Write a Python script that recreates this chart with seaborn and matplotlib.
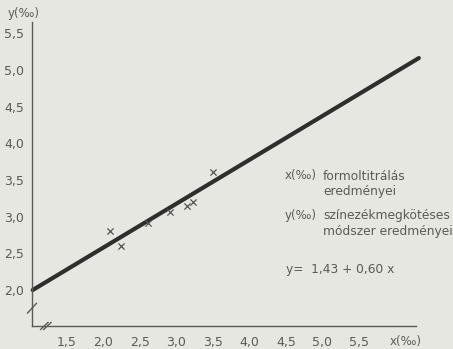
import matplotlib
matplotlib.use("Agg")
import matplotlib.pyplot as plt
import seaborn as sns
import pandas as pd

# mért pontok (x: formoltitrálás, y: színezékmegkötés), ezrelékben
meas_x = [2.09, 2.24, 2.61, 2.91, 3.14, 3.23, 3.50]
meas_y = [2.80, 2.60, 2.91, 3.06, 3.14, 3.20, 3.61]

# regressziós egyenes két végpontja
line_x = [1.03, 6.32]
line_y = [2.00, 5.16]

x_ticks = [1.5, 2.0, 2.5, 3.0, 3.5, 4.0, 4.5, 5.0, 5.5]
y_ticks = [2.0, 2.5, 3.0, 3.5, 4.0, 4.5, 5.0, 5.5]

BG = "#e7e7e1"
INK = "#5a5a58"

sns.set_style("white")
plt.rcParams["font.family"] = ["DejaVu Sans"]

fig = plt.figure(figsize=(4.53, 3.49), dpi=100, facecolor=BG)
ax = fig.add_axes([0.0706, 0.0659, 0.8477, 0.871])
ax.set_facecolor(BG)

df_pts = pd.DataFrame({"x": meas_x, "y": meas_y})
df_line = pd.DataFrame({"x": line_x, "y": line_y})

sns.lineplot(data=df_line, x="x", y="y", ax=ax, color="#2e2e2e",
             linewidth=3.0, solid_capstyle="round", clip_on=False)
sns.scatterplot(data=df_pts, x="x", y="y", ax=ax, marker="x", s=20,
                color="#555555", linewidth=0.9, zorder=3)

ax.set_xlim(1.0205, 6.281)
ax.set_ylim(1.510, 5.651)

for side in ["top", "right"]:
    ax.spines[side].set_visible(False)
for side in ["left", "bottom"]:
    ax.spines[side].set_color(INK)
    ax.spines[side].set_linewidth(1.0)

ax.set_xticks(x_ticks)
ax.set_yticks(y_ticks)
ax.set_xticklabels([f"{v:.1f}".replace(".", ",") for v in x_ticks])
ax.set_yticklabels([f"{v:.1f}".replace(".", ",") for v in y_ticks])
ax.tick_params(axis="both", direction="inout", length=7, width=0.9,
               color=INK, labelcolor=INK, labelsize=9, pad=2)
ax.tick_params(axis="x", pad=4)
ax.set_xlabel("")
ax.set_ylabel("")

# tengely-megszakítás jelek
ax.plot([-0.012, 0.012], [0.042, 0.075], transform=ax.transAxes,
        color=INK, lw=1.0, clip_on=False)
ax.plot([0.022, 0.042], [-0.012, 0.012], transform=ax.transAxes,
        color=INK, lw=1.0, clip_on=False)
ax.plot([0.030, 0.050], [-0.012, 0.012], transform=ax.transAxes,
        color=INK, lw=1.0, clip_on=False)

# tengelyfeliratok
fig.text(8 / 453, 1 - 13 / 349, "y(‰)", color=INK, fontsize=8.5, va="center")
fig.text(390 / 453, 1 - 342 / 349, "x(‰)", color=INK, fontsize=8.5, va="center")

# jelmagyarázat szövegek
kw = dict(color=INK, fontsize=8.8, va="center")
fig.text(285 / 453, 1 - 176 / 349, "x(‰)", color=INK, fontsize=8.5, va="center")
fig.text(323 / 453, 1 - 176 / 349, "formoltitrálás", **kw)
fig.text(323 / 453, 1 - 191 / 349, "eredményei", **kw)
fig.text(285 / 453, 1 - 216 / 349, "y(‰)", color=INK, fontsize=8.5, va="center")
fig.text(323 / 453, 1 - 216 / 349, "színezékmegkötéses", **kw)
fig.text(323 / 453, 1 - 231 / 349, "módszer eredményei", **kw)
fig.text(286 / 453, 1 - 270 / 349, "y=  1,43 + 0,60 x", **kw)

fig.savefig("out.png", dpi=100, facecolor=BG)
